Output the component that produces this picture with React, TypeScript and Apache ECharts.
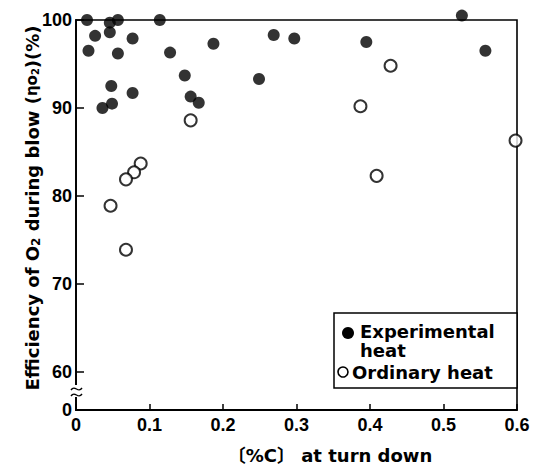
import React, { useEffect, useRef } from "react";
import * as echarts from "echarts";

// Experimental heat (filled circles)
const expC = [0.015, 0.046, 0.057, 0.114, 0.026, 0.046, 0.077, 0.017, 0.057, 0.128, 0.187, 0.269, 0.297, 0.148, 0.249, 0.048, 0.077, 0.156, 0.167, 0.049, 0.036, 0.525, 0.395, 0.557];
const expEff = [100, 99.7, 100, 100, 98.2, 98.6, 97.9, 96.5, 96.2, 96.3, 97.3, 98.3, 97.9, 93.7, 93.3, 92.5, 91.7, 91.3, 90.6, 90.5, 90.0, 100.5, 97.5, 96.5];
// Ordinary heat (open circles)
const ordC = [0.156, 0.428, 0.387, 0.598, 0.409, 0.088, 0.079, 0.068, 0.047, 0.068];
const ordEff = [88.6, 94.8, 90.2, 86.3, 82.3, 83.7, 82.7, 81.9, 78.9, 73.9];

const yTicks = [60, 70, 80, 90, 100];
// position on the broken axis where the "0" label sits
const BREAK_ZERO = 55.7;
const xTicks = [0, 0.1, 0.2, 0.3, 0.4, 0.5, 0.6];

const TICK_FONT = "'Liberation Sans Narrow', 'Liberation Sans', Arial, sans-serif";
const BOLD_FONT = "'DejaVu Sans', 'Noto Sans CJK JP', sans-serif";

export default function App() {
  const ref = useRef<HTMLDivElement>(null);
  useEffect(() => {
    if (!ref.current) return;
    const chart = echarts.init(ref.current, null, { renderer: "svg" });
    const exp = expC.map((c, i) => [c, expEff[i]]);
    const ord = ordC.map((c, i) => [c, ordEff[i]]);
    chart.setOption({
      animation: false,
      backgroundColor: "#fff",
      grid: {
        left: 76,
        right: 16,
        top: 20,
        bottom: 55,
        show: true,
        borderColor: "#000",
        borderWidth: 1.6,
        backgroundColor: "transparent",
      },
      xAxis: {
        type: "value",
        min: 0,
        max: 0.6,
        interval: 0.1,
        axisLine: { show: true, lineStyle: { color: "#000", width: 1.8 } },
        axisTick: { show: true, inside: true, length: 6, lineStyle: { color: "#000", width: 1.5 } },
        axisLabel: {
          color: "#000",
          fontFamily: TICK_FONT,
          fontWeight: "bold",
          fontSize: 18,
          margin: 6,
          customValues: xTicks,
          formatter: (v: number) => (v === 0 ? "0" : v.toFixed(1)),
        },
        splitLine: { show: false },
      },
      yAxis: {
        type: "value",
        min: BREAK_ZERO,
        max: 100,
        axisLine: { show: true, lineStyle: { color: "#000", width: 1.8 } },
        axisTick: {
          show: true,
          inside: true,
          length: 8,
          customValues: yTicks,
          lineStyle: { color: "#000", width: 1.5 },
        },
        axisLabel: {
          color: "#000",
          fontFamily: TICK_FONT,
          fontWeight: "bold",
          fontSize: 18,
          margin: 4,
          customValues: [BREAK_ZERO, ...yTicks],
          formatter: (v: number) => (v < 59 ? "0" : String(Math.round(v))),
        },
        splitLine: { show: false },
      },
      series: [
        {
          name: "Experimental heat",
          type: "scatter",
          data: exp,
          symbol: "circle",
          symbolSize: 12,
          clip: false,
          itemStyle: { color: "#000" },
          z: 5,
        },
        {
          name: "Ordinary heat",
          type: "scatter",
          data: ord,
          symbol: "circle",
          symbolSize: 12,
          clip: false,
          itemStyle: { color: "#fff", borderColor: "#000", borderWidth: 2 },
          z: 5,
        },
      ],
      graphic: [
        // axis break
        { type: "rect", shape: { x: 72, y: 385, width: 8, height: 12 }, style: { fill: "#fff" }, z: 10 },
        {
          type: "bezierCurve",
          shape: { x1: 71, y1: 390, x2: 82, y2: 388, cpx1: 75, cpy1: 384, cpx2: 78, cpy2: 394 },
          style: { stroke: "#000", lineWidth: 1.4, fill: null },
          z: 11,
        },
        {
          type: "bezierCurve",
          shape: { x1: 71, y1: 396, x2: 82, y2: 394, cpx1: 75, cpy1: 390, cpx2: 78, cpy2: 400 },
          style: { stroke: "#000", lineWidth: 1.4, fill: null },
          z: 11,
        },
        // y-axis title
        {
          type: "text",
          x: 32,
          y: 208,
          rotation: Math.PI / 2,
          style: {
            text: "Efficiency of O{sub|2} during blow ({sm|η}{sm|o}{sub2|2})(%)",
            font: `bold 18px ${BOLD_FONT}`,
            fill: "#000",
            align: "center",
            verticalAlign: "middle",
            rich: {
              sub: { fontSize: 12, fontWeight: "bold", fontFamily: BOLD_FONT, padding: [7, 0, 0, 0] },
              sm: { fontSize: 15, fontWeight: "bold", fontFamily: BOLD_FONT },
              sub2: { fontSize: 10, fontWeight: "bold", fontFamily: BOLD_FONT, padding: [7, 0, 0, 0] },
            },
          },
          z: 10,
        },
        // x-axis title
        {
          type: "text",
          x: 330,
          y: 455,
          style: {
            text: "〔%C〕 at turn down",
            font: `bold 18px ${BOLD_FONT}`,
            fill: "#000",
            align: "center",
            verticalAlign: "middle",
          },
          z: 10,
        },
        // legend
        {
          type: "rect",
          shape: { x: 334, y: 313, width: 183, height: 75 },
          style: { fill: "#fff", stroke: "#000", lineWidth: 1.5 },
          z: 20,
        },
        { type: "circle", shape: { cx: 348, cy: 333, r: 6 }, style: { fill: "#000" }, z: 21 },
        {
          type: "text",
          x: 360,
          y: 331,
          style: { text: "Experimental", font: `bold 18px ${BOLD_FONT}`, fill: "#000", verticalAlign: "middle" },
          z: 21,
        },
        {
          type: "text",
          x: 360,
          y: 350,
          style: { text: "heat", font: `bold 18px ${BOLD_FONT}`, fill: "#000", verticalAlign: "middle" },
          z: 21,
        },
        {
          type: "circle",
          shape: { cx: 343, cy: 372, r: 5 },
          style: { fill: "#fff", stroke: "#000", lineWidth: 1.6 },
          z: 21,
        },
        {
          type: "text",
          x: 352,
          y: 372,
          style: { text: "Ordinary heat", font: `bold 18px ${BOLD_FONT}`, fill: "#000", verticalAlign: "middle" },
          z: 21,
        },
      ],
    });
    return () => chart.dispose();
  }, []);
  return (
    <div
      ref={ref}
      style={{ position: "fixed", left: 0, top: 0, width: 533, height: 465, background: "#fff" }}
    />
  );
}
